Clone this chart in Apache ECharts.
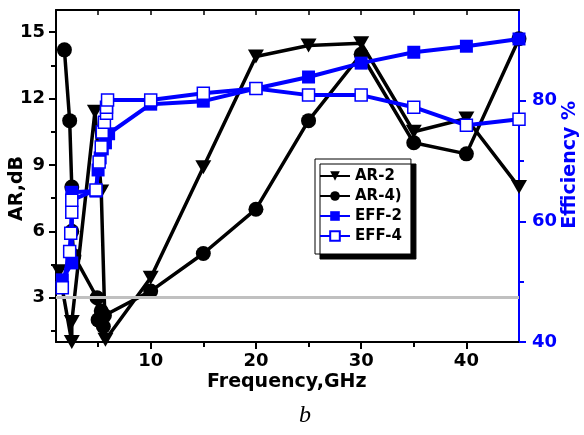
<!DOCTYPE html>
<html>
<head>
<meta charset="utf-8">
<script src="https://cdn.jsdelivr.net/npm/echarts@6/dist/echarts.min.js"></script>
<style>
  html, body { margin: 0; padding: 0; background: #fff; }
  #chart { width: 584px; height: 435px; }
</style>
</head>
<body>
<div id="chart"></div>
<script>
// Axial ratio (dB) and efficiency (%) versus frequency (GHz)
const ar2Freq = [1.3, 2.5, 2.5, 4.7, 5.3, 5.7, 10, 15, 20, 25, 30, 35, 40, 45];
const ar2Val  = [4.2, 1.0, 1.9, 11.4, 7.8, 1.1, 3.9, 8.9, 13.9, 14.4, 14.5, 10.5, 11.1, 8.0];

const ar4Freq = [1.8, 2.3, 2.5, 2.5, 2.7, 4.9, 5.0, 5.3, 5.5, 5.6, 10, 15, 20, 25, 30, 35, 40, 45];
const ar4Val  = [14.2, 11.0, 8.0, 6.0, 4.9, 3.0, 2.0, 2.4, 1.7, 2.2, 3.3, 5.0, 7.0, 11.0, 14.0, 10.0, 9.5, 14.7];

const eff2Freq = [1.6, 2.5, 2.5, 4.8, 5.0, 5.2, 5.4, 5.7, 6.0, 10, 15, 20, 25, 30, 35, 40, 45];
const eff2Val  = [50.3, 53.1, 64.8, 65.0, 68.5, 70.5, 72.0, 73.0, 74.5, 79.4, 79.9, 82.0, 83.9, 86.2, 88.0, 89.0, 90.2];

const eff4Freq = [1.6, 2.3, 2.4, 2.5, 2.5, 4.8, 5.1, 5.3, 5.4, 5.6, 5.8, 5.8, 5.9, 10, 15, 20, 25, 30, 35, 40, 45];
const eff4Val  = [49.0, 55.0, 58.0, 61.5, 63.5, 65.2, 69.8, 72.3, 74.8, 76.4, 77.9, 78.9, 80.1, 80.1, 81.2, 82.0, 80.9, 80.9, 78.9, 75.9, 76.9];

const xMajorTicks = [10, 20, 30, 40];
const xMinorTicks = [5, 15, 25, 35];
const arMajorTicks = [3, 6, 9, 12, 15];
const arMinorTicks = [1.5, 4.5, 7.5, 10.5, 13.5];
const effMajorTicks = [40, 60, 80];
const effMinorTicks = [50, 70, 90];
const arThreshold = 3;

const FONT = 'DejaVu Sans';
const BLUE = '#0000ff';
const pairs = (xs, ys) => xs.map((x, i) => [x, ys[i]]);

const X_MIN = 1, X_MAX = 45, AR_MIN = 1, AR_MAX = 16, EFF_MIN = 40, EFF_MAX = 95;

const chart = echarts.init(document.getElementById('chart'), null, { renderer: 'canvas' });

const option = {
  animation: false,
  backgroundColor: '#fff',
  grid: { left: 56, right: 65, top: 10, bottom: 93, containLabel: false },
  xAxis: [
    { // bottom axis, major ticks + labels
      type: 'value', position: 'bottom', min: X_MIN, max: X_MAX,
      axisLine: { show: true, lineStyle: { color: '#000', width: 2 } },
      axisTick: { show: true, customValues: xMajorTicks, length: 7, lineStyle: { color: '#000', width: 2 } },
      axisLabel: { customValues: xMajorTicks, margin: 10, color: '#000', fontFamily: FONT, fontWeight: 'bold', fontSize: 18 },
      splitLine: { show: false }
    },
    { // bottom minor ticks
      type: 'value', position: 'bottom', min: X_MIN, max: X_MAX,
      axisLine: { show: false },
      axisTick: { show: true, customValues: xMinorTicks, length: 5, lineStyle: { color: '#000', width: 2 } },
      axisLabel: { show: true, customValues: [], formatter: () => '' },
      splitLine: { show: false }
    },
    { // top frame with inward ticks
      type: 'value', position: 'top', min: X_MIN, max: X_MAX,
      axisLine: { show: true, lineStyle: { color: '#000', width: 2 } },
      axisTick: { show: true, inside: true, customValues: xMinorTicks.concat(xMajorTicks), length: 5, lineStyle: { color: '#000', width: 1.5 } },
      axisLabel: { show: true, customValues: [], formatter: () => '' },
      splitLine: { show: false }
    }
  ],
  yAxis: [
    { // AR, left
      type: 'value', position: 'left', min: AR_MIN, max: AR_MAX,
      axisLine: { show: true, lineStyle: { color: '#000', width: 2 } },
      axisTick: { show: true, customValues: arMajorTicks, length: 7, lineStyle: { color: '#000', width: 2 } },
      axisLabel: { customValues: arMajorTicks, margin: 11, color: '#000', fontFamily: FONT, fontWeight: 'bold', fontSize: 18 },
      splitLine: { show: false }
    },
    { // efficiency, right
      type: 'value', position: 'right', min: EFF_MIN, max: EFF_MAX,
      axisLine: { show: true, lineStyle: { color: BLUE, width: 2 } },
      axisTick: { show: true, customValues: effMajorTicks, length: 7, lineStyle: { color: BLUE, width: 2 } },
      axisLabel: { customValues: effMajorTicks, margin: 13, color: BLUE, fontFamily: FONT, fontWeight: 'bold', fontSize: 18 },
      splitLine: { show: false }
    },
    { // AR minor ticks
      type: 'value', position: 'left', min: AR_MIN, max: AR_MAX,
      axisLine: { show: false },
      axisTick: { show: true, customValues: arMinorTicks, length: 5, lineStyle: { color: '#000', width: 2 } },
      axisLabel: { show: true, customValues: [], formatter: () => '' },
      splitLine: { show: false }
    },
    { // efficiency minor ticks
      type: 'value', position: 'right', min: EFF_MIN, max: EFF_MAX,
      axisLine: { show: false },
      axisTick: { show: true, customValues: effMinorTicks, length: 5, lineStyle: { color: BLUE, width: 2 } },
      axisLabel: { show: true, customValues: [], formatter: () => '' },
      splitLine: { show: false }
    }
  ],
  legend: {
    orient: 'vertical', left: 315, top: 159,
    data: ['AR-2', 'AR-4)', 'EFF-2', 'EFF-4'],
    itemWidth: 30, itemHeight: 12, itemGap: 4,
    padding: [9, 9, 10, 4],
    backgroundColor: '#fff', borderColor: '#000', borderWidth: 1,
    shadowColor: '#000', shadowBlur: 0, shadowOffsetX: 5, shadowOffsetY: 5,
    textStyle: { fontFamily: FONT, fontWeight: 'bold', fontSize: 15, color: '#000', lineHeight: 16 },
    z: 10
  },
  graphic: [
    { type: 'text', left: 8, top: 156, rotation: Math.PI / 2, style: {
        text: 'AR,dB', fontFamily: FONT, fontWeight: 'bold', fontSize: 19, fill: '#000' } },
    { type: 'text', left: 561, top: 101, rotation: Math.PI / 2, style: {
        text: 'Efficiency %', fontFamily: FONT, fontWeight: 'bold', fontSize: 19, fill: BLUE } },
    { type: 'text', left: 207, top: 373, style: {
        text: 'Frequency,GHz', fontFamily: FONT, fontWeight: 'bold', fontSize: 19, fill: '#000' } },
    { type: 'text', left: 299, top: 404, style: {
        text: 'b', fontFamily: 'Liberation Serif', fontStyle: 'italic', fontSize: 24, fill: '#000' } }
  ],
  series: [
    {
      name: 'threshold', type: 'line', data: [], xAxisIndex: 0, yAxisIndex: 0, z: 1,
      markLine: {
        silent: true, symbol: 'none', label: { show: false },
        lineStyle: { color: '#c0c0c0', width: 3, type: 'solid' },
        data: [{ yAxis: arThreshold }]
      }
    },
    {
      name: 'AR-2', type: 'line', xAxisIndex: 0, yAxisIndex: 0, z: 3,
      data: pairs(ar2Freq, ar2Val),
      symbol: 'triangle', symbolRotate: 180, symbolSize: [16, 14],
      lineStyle: { color: '#000', width: 3.5 },
      itemStyle: { color: '#000' }
    },
    {
      name: 'AR-4)', type: 'line', xAxisIndex: 0, yAxisIndex: 0, z: 3,
      data: pairs(ar4Freq, ar4Val),
      symbol: 'circle', symbolSize: 15,
      lineStyle: { color: '#000', width: 3.5 },
      itemStyle: { color: '#000' }
    },
    {
      name: 'EFF-2', type: 'line', xAxisIndex: 0, yAxisIndex: 1, z: 4,
      data: pairs(eff2Freq, eff2Val),
      symbol: 'rect', symbolSize: 13,
      lineStyle: { color: BLUE, width: 4 },
      itemStyle: { color: BLUE }
    },
    {
      name: 'EFF-4', type: 'line', xAxisIndex: 0, yAxisIndex: 1, z: 5,
      data: pairs(eff4Freq, eff4Val),
      symbol: 'rect', symbolSize: 12,
      lineStyle: { color: BLUE, width: 4 },
      itemStyle: { color: '#fff', borderColor: BLUE, borderWidth: 1.5 }
    }
  ]
};
chart.setOption(option);
</script>
</body>
</html>
